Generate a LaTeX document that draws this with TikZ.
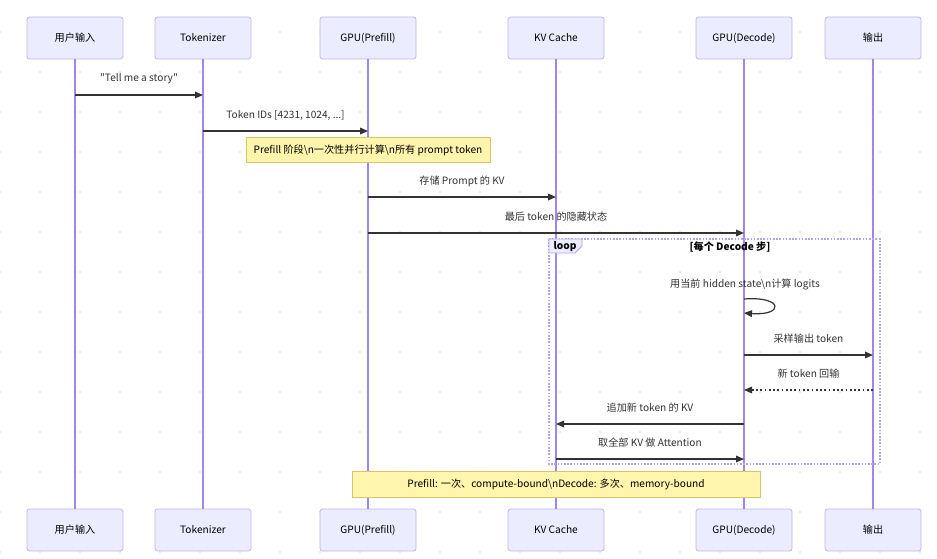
\documentclass[tikz,border=0pt]{standalone}
\usepackage{fontspec}
\setmainfont{Noto Sans CJK SC}[Ligatures=TeXOff]
\usetikzlibrary{arrows.meta,positioning}

\definecolor{actorfill}{HTML}{ECECFF}
\definecolor{actorline}{HTML}{C4B2F2}
\definecolor{lifeline}{HTML}{A185E8}
\definecolor{msgcol}{HTML}{333333}
\definecolor{notefill}{HTML}{FFF5AD}
\definecolor{noteline}{HTML}{D2C864}
\definecolor{loopline}{HTML}{B7A2EE}
\definecolor{griddot}{HTML}{E2E2E2}

\begin{document}
\begin{tikzpicture}[
    x=0.75pt, y=-0.75pt,
    font=\fontsize{7.6pt}{9.5pt}\selectfont,
    actorbox/.style={draw=actorline, fill=actorfill, rounded corners=2pt,
      minimum width=72pt, minimum height=31.5pt, inner sep=0pt, line width=0.6pt},
    notebox/.style={draw=noteline, fill=notefill, inner sep=0pt, line width=0.6pt,
      minimum height=19pt},
    lline/.style={draw=lifeline, line width=0.9pt},
    msg/.style={draw=msgcol, line width=0.9pt, -{Triangle[length=6pt,width=5pt]}},
    reply/.style={msg, dash pattern=on 1.3pt off 1.9pt},
    msglabel/.style={midway, text=msgcol, yshift=12pt}
  ]
    \useasboundingbox (0,0) rectangle (937,559);
    \fill[white] (0,0) rectangle (937,559);
    % background dots
    \foreach \gx in {0,40,...,920}
      \foreach \gy in {32,72,...,552}
        \fill[griddot] (\gx,\gy) circle (0.8pt);

    % actors, top and bottom
    \node[actorbox] (user) at (75,38) {用户输入};
    \node[actorbox] (tok) at (203,38) {Tokenizer};
    \node[actorbox] (pre) at (368,38) {GPU(Prefill)};
    \node[actorbox] (kv) at (556,38) {KV Cache};
    \node[actorbox] (dec) at (744,38) {GPU(Decode)};
    \node[actorbox] (out) at (873,38) {输出};
    \node[actorbox] (userB) at (75,530) {用户输入};
    \node[actorbox] (tokB) at (203,530) {Tokenizer};
    \node[actorbox] (preB) at (368,530) {GPU(Prefill)};
    \node[actorbox] (kvB) at (556,530) {KV Cache};
    \node[actorbox] (decB) at (744,530) {GPU(Decode)};
    \node[actorbox] (outB) at (873,530) {输出};
    \foreach \a in {user,tok,pre,kv,dec,out}
      \draw[lline] (\a.south) -- (\a B.north);

    % loop frame
    \draw[loopline, line width=0.8pt, dash pattern=on 1.2pt off 1.2pt]
      (549,239) rectangle (880,464);
    \draw[loopline, fill=actorfill, line width=0.6pt]
      (549,239) -- (582,239) -- (582,246) -- (575,253) -- (549,253) -- cycle;
    \node[font=\fontsize{7.6pt}{9.5pt}\selectfont\bfseries] (looplbl) at (565,246.5) {loop};
    \node[font=\fontsize{7.6pt}{9.5pt}\selectfont\bfseries] (loopcond) at (730,247.5) {[每个 Decode 步]};

    % notes
    \node[notebox, minimum width=183pt] (note1) at (368,150)
      {Prefill 阶段\textbackslash n一次性并行计算\textbackslash n所有 prompt token};
    \node[notebox, minimum width=306pt] (note2) at (556,484.5)
      {Prefill: 一次、compute-bound\textbackslash nDecode: 多次、memory-bound};

    % messages
    \draw[msg] (user |- 0,95) -- (tok |- 0,95) node[msglabel] {"Tell me a story"};
    \draw[msg] (tok |- 0,131) -- (pre |- 0,131) node[msglabel] {Token IDs [4231, 1024, ...]};
    \draw[msg] (pre |- 0,197) -- (kv |- 0,197) node[msglabel] {存储 Prompt 的 KV};
    \draw[msg] (pre |- 0,233) -- (dec |- 0,233) node[msglabel] {最后 token 的隐藏状态};
    \node[text=msgcol] (selflbl) at (745,284) {用当前 hidden state\textbackslash n计算 logits};
    \draw[msg] (dec |- 0,299) .. controls (784,296) and (784,316) .. (dec |- 0,313);
    \draw[msg] (dec |- 0,355) -- (out |- 0,355) node[msglabel] {采样输出 token};
    \draw[reply] (out |- 0,390) -- (dec |- 0,390) node[msglabel] {新 token 回输};
    \draw[msg] (dec |- 0,424) -- (kv |- 0,424) node[msglabel] {追加新 token 的 KV};
    \draw[msg] (kv |- 0,459) -- (dec |- 0,459) node[msglabel] {取全部 KV 做 Attention};
\end{tikzpicture}
\end{document}
